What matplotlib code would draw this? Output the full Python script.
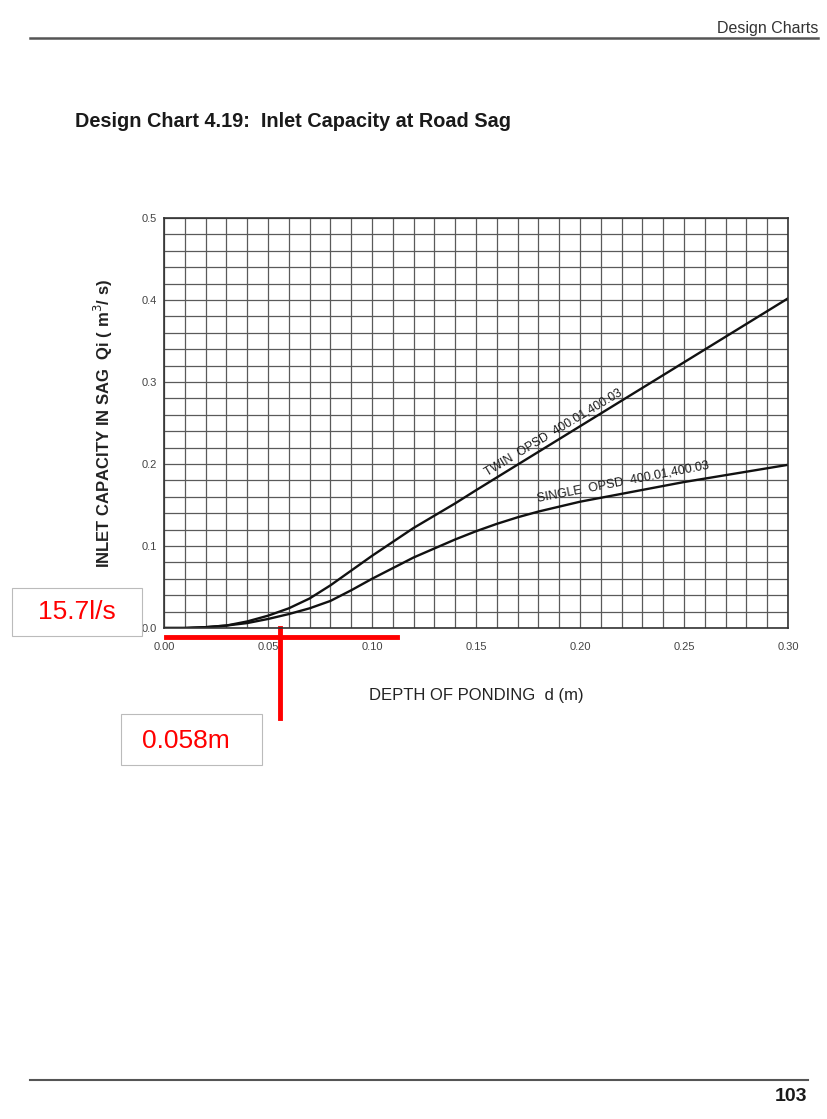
import numpy as np
import matplotlib.pyplot as plt
from matplotlib.patches import Rectangle
from matplotlib.lines import Line2D

plt.rcParams['font.family'] = ['Liberation Sans', 'DejaVu Sans']

# depth of ponding d (m)
depth_twin = [0.00, 0.01, 0.02, 0.03, 0.04, 0.05, 0.06, 0.07, 0.08, 0.09, 0.10,
              0.11, 0.12, 0.13, 0.14, 0.15, 0.20, 0.25, 0.30]
q_twin = [0.000, 0.000, 0.001, 0.003, 0.008, 0.015, 0.024, 0.036, 0.052, 0.070, 0.088,
          0.105, 0.122, 0.137, 0.152, 0.168, 0.246, 0.324, 0.402]

depth_single = [0.00, 0.01, 0.02, 0.03, 0.04, 0.05, 0.06, 0.07, 0.08, 0.09, 0.10,
                0.11, 0.12, 0.13, 0.14, 0.15, 0.16, 0.17, 0.18, 0.20, 0.25, 0.30]
q_single = [0.000, 0.000, 0.001, 0.003, 0.006, 0.011, 0.017, 0.024, 0.033, 0.046, 0.060,
            0.073, 0.086, 0.097, 0.108, 0.118, 0.127, 0.135, 0.142, 0.154, 0.178, 0.199]

x_ticks = [0.00, 0.05, 0.10, 0.15, 0.20, 0.25, 0.30]
y_ticks = [0.0, 0.1, 0.2, 0.3, 0.4, 0.5]

d_read = 0.056
label_q = "15.7l/s"
label_d = "0.058m"

W, H = 827, 1119
fig = plt.figure(figsize=(W / 100, H / 100), dpi=100)
fig.patch.set_facecolor('white')


def fx(px):
    return px / W


def fy(py):
    return 1 - py / H


# page header / footer
fig.add_artist(Line2D([fx(30), fx(818)], [fy(38), fy(38)], color='#555555', lw=1.8))
fig.text(fx(818), fy(33), "Design Charts", ha='right', va='baseline', fontsize=11.5, color='#333333')
fig.text(fx(75), fy(127), "Design Chart 4.19:  Inlet Capacity at Road Sag", ha='left',
         va='baseline', fontsize=14.3, fontweight='bold', color='#1a1a1a')
fig.add_artist(Line2D([fx(30), fx(808)], [fy(1080), fy(1080)], color='#555555', lw=1.5))
fig.text(fx(807), fy(1101), "103", ha='right', va='baseline', fontsize=14, fontweight='bold',
         color='#1a1a1a')

ax = fig.add_axes([fx(164), fy(628), 624 / W, 410 / H])
ax.set_xlim(0, 0.30)
ax.set_ylim(0, 0.5)
ax.set_xticks(np.arange(0, 0.3001, 0.01), minor=True)
ax.set_yticks(np.arange(0, 0.5001, 0.02), minor=True)
ax.set_xticks(x_ticks)
ax.set_yticks(y_ticks)
ax.set_xticklabels([f"{v:.2f}" for v in x_ticks])
ax.set_yticklabels([f"{v:.1f}" for v in y_ticks])
ax.grid(which='both', color='#5a5a5a', lw=0.9)
ax.tick_params(which='both', length=0, labelsize=8, labelcolor='#444444')
ax.tick_params(axis='x', pad=10)
ax.tick_params(axis='y', pad=5)
for s in ax.spines.values():
    s.set_color('#333333')
    s.set_linewidth(1.2)

ax.plot(depth_twin, q_twin, color='#111111', lw=1.7)
ax.plot(depth_single, q_single, color='#111111', lw=1.7)

ax.text(0.187, 0.238, "TWIN  OPSD  400.01,400.03", rotation=31, ha='center', va='center',
        fontsize=8.8, color='#1a1a1a')
ax.text(0.2205, 0.178, "SINGLE  OPSD  400.01,400.03", rotation=11, ha='center', va='center',
        fontsize=9, color='#1a1a1a')

ax.set_xlabel("DEPTH OF PONDING  d (m)", fontsize=12, color='#222222', labelpad=26)
ax.set_ylabel(r"INLET CAPACITY IN SAG  Qi ( m$^{3}$/ s)", fontsize=12, fontweight='bold',
              color='#222222', labelpad=19)

# red reading annotations
fig.add_artist(Line2D([fx(166), fx(397)], [fy(637), fy(637)], color='red', lw=3.5))
ax.plot([d_read, d_read], [0.0, -0.11], color='red', lw=3.5, clip_on=False)

fig.add_artist(Rectangle((fx(12), fy(636)), (142 - 12) / W, (636 - 588) / H,
                         facecolor='white', edgecolor='#bbbbbb', lw=0.8))
fig.text(fx(77), fy(612), label_q, ha='center', va='center', fontsize=19, color='red')
fig.add_artist(Rectangle((fx(121), fy(765)), (262 - 121) / W, (765 - 714) / H,
                         facecolor='white', edgecolor='#bbbbbb', lw=0.8))
fig.text(fx(186), fy(741), label_d, ha='center', va='center', fontsize=19, color='red')

fig.savefig("out.png", dpi=100, facecolor='white')
